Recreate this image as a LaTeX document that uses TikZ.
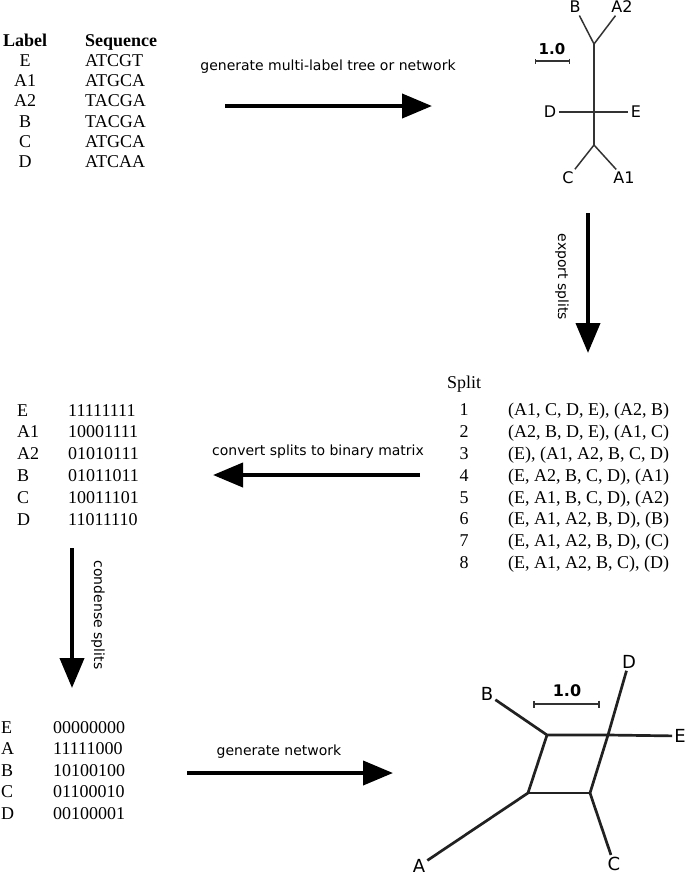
\documentclass[tikz,border=0pt]{standalone}
\usepackage{fontspec}
\setmainfont{Liberation Serif}
\setsansfont{DejaVu Sans}
\usetikzlibrary{arrows.meta, positioning}

\begin{document}
\begin{tikzpicture}[x=1pt, y=-1pt,
  stage arrow/.style={line width=4pt, -{Triangle[length=30pt,width=24pt]}},
  stage label/.style={font=\sffamily\fontsize{14}{17}\selectfont, inner sep=0pt},
  taxon/.style={font=\sffamily\fontsize{16}{19}\selectfont, inner sep=2.5pt},
  net taxon/.style={font=\sffamily\fontsize{18}{21}\selectfont, inner sep=2pt},
  scale label/.style={font=\sffamily\bfseries\fontsize{15}{18}\selectfont, inner sep=0pt},
  datatable/.style={inner sep=0pt, anchor=base west, align=left}]

  \useasboundingbox (0,0) rectangle (685,876);

  \node[datatable, font=\fontsize{18}{20.3}\selectfont] (seqs) at (3,46)
    {\setlength\tabcolsep{19pt}\begin{tabular}[t]{@{}cl@{}}
      \textbf{Label} & \textbf{Sequence}\\
      E & ATCGT\\ A1 & ATGCA\\ A2 & TACGA\\ B & TACGA\\ C & ATGCA\\ D & ATCAA
    \end{tabular}};

  \coordinate (gen1s) at (225,106);
  \coordinate (gen1e) at (432,106);
  \draw[stage arrow] (gen1s) -- (gen1e);
  \node[stage label] (gen1) at (328,67) {generate multi-label tree or network};

  % multi-label tree
  \coordinate (ttop) at (594,44);
  \coordinate (tbot) at (594,145);
  \node[taxon] (tB) at (575,7) {B};
  \node[taxon] (tA2) at (622,7) {A2};
  \node[taxon] (tD) at (550,112) {D};
  \node[taxon] (tE) at (636,112) {E};
  \node[taxon] (tC) at (568,178) {C};
  \node[taxon] (tA1) at (624,178) {A1};
  \begin{scope}[line width=1.5pt, draw=black!80]
    \draw (ttop) -- (tbot);
    \draw (tB) -- (ttop) -- (tA2);
    \draw (tC) -- (tbot) -- (tA1);
    \draw (tD) -- (tE);
  \end{scope}
  \coordinate (tbar1) at (535,61);
  \coordinate (tbar2) at (570,61);
  \draw[line width=1.2pt, draw=black!80, {Bar[width=5pt]}-{Bar[width=5pt]}] (tbar1) -- (tbar2);
  \node[scale label] (tscale) at (552,49) {1.0};

  \coordinate (exps) at (588,213);
  \coordinate (expe) at (588,353);
  \draw[stage arrow] (exps) -- (expe);
  \node[stage label, rotate=-90] (exp) at (562,277) {export splits};

  \node[datatable, font=\fontsize{18}{21.8}\selectfont] (splits) at (447,388)
    {\setlength\tabcolsep{13.5pt}\begin{tabular}[t]{@{}cl@{}}
      Split & \\[6pt]
      1 & (A1, C, D, E), (A2, B)\\
      2 & (A2, B, D, E), (A1, C)\\
      3 & (E), (A1, A2, B, C, D)\\
      4 & (E, A2, B, C, D), (A1)\\
      5 & (E, A1, B, C, D), (A2)\\
      6 & (E, A1, A2, B, D), (B)\\
      7 & (E, A1, A2, B, D), (C)\\
      8 & (E, A1, A2, B, C), (D)
    \end{tabular}};

  \coordinate (convs) at (420,475);
  \coordinate (conve) at (213,475);
  \draw[stage arrow] (convs) -- (conve);
  \node[stage label] (conv) at (318,452) {convert splits to binary matrix};

  \node[datatable, font=\fontsize{18}{21.8}\selectfont] (matrix) at (17,416)
    {\setlength\tabcolsep{14.5pt}\begin{tabular}[t]{@{}ll@{}}
      E & 11111111\\ A1 & 10001111\\ A2 & 01010111\\
      B & 01011011\\ C & 10011101\\ D & 11011110
    \end{tabular}};

  \coordinate (conds) at (72,548);
  \coordinate (conde) at (72,688);
  \draw[stage arrow] (conds) -- (conde);
  \node[stage label, rotate=-90] (cond) at (98,615) {condense splits};

  \node[datatable, font=\fontsize{18}{21.5}\selectfont] (condensed) at (1,733)
    {\setlength\tabcolsep{19.5pt}\begin{tabular}[t]{@{}ll@{}}
      E & 00000000\\ A & 11111000\\ B & 10100100\\ C & 01100010\\ D & 00100001
    \end{tabular}};

  \coordinate (gen2s) at (187,773);
  \coordinate (gen2e) at (393,773);
  \draw[stage arrow] (gen2s) -- (gen2e);
  \node[stage label] (gen2) at (279,752) {generate network};

  % split network
  \coordinate (nTL) at (547,735);
  \coordinate (nTR) at (608,735);
  \coordinate (nBL) at (528,793);
  \coordinate (nBR) at (590,793);
  \node[net taxon] (nB) at (487,694) {B};
  \node[net taxon] (nA) at (419,866) {A};
  \node[net taxon] (nC) at (614,864) {C};
  \node[net taxon] (nE) at (680,736) {E};
  \node[net taxon] (nD) at (629,662) {D};
  \begin{scope}[line width=2.7pt, draw=black!87]
    \draw (nB) -- (nTL) -- (nTR) -- (nE);
    \draw (nD) -- (nTR) -- (nBR) -- (nC);
    \draw (nTL) -- (nBL) -- (nA);
    \draw (nBL) -- (nBR);
  \end{scope}
  \coordinate (nbar1) at (533,704);
  \coordinate (nbar2) at (600,704);
  \draw[line width=2pt, draw=black!80, {Bar[width=7pt]}-{Bar[width=7pt]}] (nbar1) -- (nbar2);
  \node[scale label, font=\sffamily\bfseries\fontsize{16}{19}\selectfont] (nscale) at (567,691) {1.0};
\end{tikzpicture}
\end{document}
